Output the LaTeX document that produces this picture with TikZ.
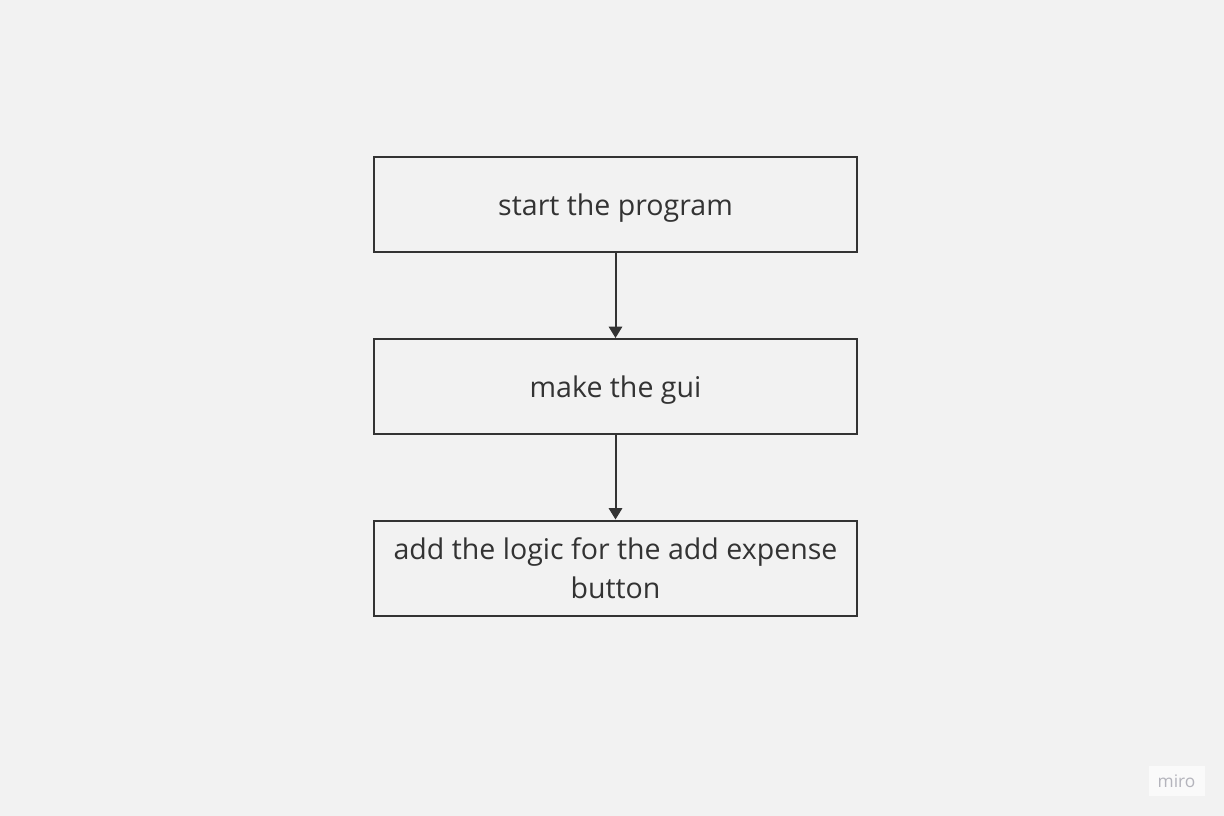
\documentclass[tikz,border=0pt]{standalone}
\usepackage{fontspec}
\setmainfont{Open Sans}
\usepackage{tikz}
\usetikzlibrary{arrows.meta}
\definecolor{bgcol}{HTML}{F2F2F2}
\definecolor{inkcol}{HTML}{333333}
\definecolor{logocol}{HTML}{B4B4BC}
\tikzset{every step box/.style={draw=inkcol, line width=1.5pt, fill=bgcol,
  minimum width=362.25pt, minimum height=71.25pt, inner sep=0pt,
  text=inkcol, font=\fontsize{21.4}{29.25}\selectfont, align=center}}

\begin{document}
\begin{tikzpicture}[x=0.75pt, y=-0.75pt]
      \tikzset{stepbox/.style={every step box}}
      \tikzset{one line/.style={text height=22pt, text depth=4.8pt}}
      \tikzset{flow/.style={draw=inkcol, line width=1.5pt,
        -{Triangle[length=8.5pt, width=10pt]}}}

      \fill[bgcol] (0,0) rectangle (1224,816);
      \useasboundingbox (0,0) rectangle (1224,816);

      \draw
      (615.5,204.5) node [stepbox, one line] (box1) {start the program}
      (615.5,386.5) node [stepbox, one line] (box2) {make the gui}
      (615.5,568) node [stepbox] (box3) {add the logic for the add expense\\button}

      (1176.5,781) node [fill=white!60!bgcol, minimum width=42pt, minimum height=23pt,
        text=logocol, font=\fontsize{13}{13}\selectfont] (logo) {miro};

      \draw[flow] (box1.south) -- (box2.north);
      \draw[flow] (box2.south) -- (box3.north);
    \end{tikzpicture}
\end{document}
